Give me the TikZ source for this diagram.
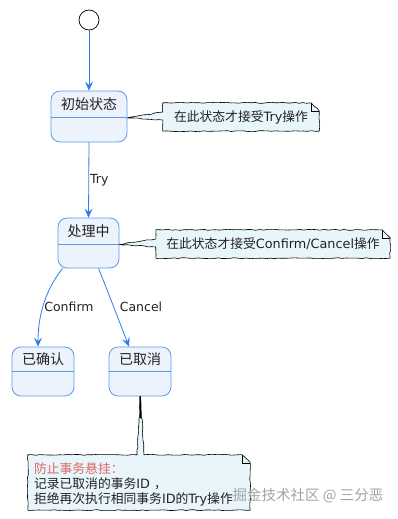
\documentclass[tikz,border=0pt]{standalone}
\usepackage{fontspec}
\setmainfont{DejaVu Sans}
\newfontfamily\cjk{Noto Sans CJK SC}
\usetikzlibrary{calc,arrows.meta,decorations.pathmorphing}
\definecolor{stborder}{HTML}{5B9BE6}
\definecolor{stfill}{HTML}{EDF3FC}
\definecolor{arr}{HTML}{2B7FE8}
\definecolor{notefill}{HTML}{E8F5FB}
\definecolor{warn}{HTML}{E06666}
\definecolor{ink}{HTML}{222222}
\definecolor{wm}{HTML}{A3A3A3}
\newcommand{\zh}[1]{{\cjk #1}}
\begin{document}
\begin{tikzpicture}[x=1pt,y=-1pt,
  statebox/.style={draw=stborder, fill=stfill, rounded corners=9pt, line width=0.8pt, inner sep=0},
  statetext/.style={font=\cjk\fontsize{14}{16}\selectfont, text=ink, inner sep=0},
  divider/.style={draw=stborder, line width=0.8pt},
  trans/.style={draw=arr, line width=0.8pt, -{Stealth[length=9pt,width=8pt,inset=3.5pt]}},
  lbl/.style={font=\fontsize{12.5}{14}\selectfont, text=ink, inner sep=1pt},
  noteframe/.style={draw=none, inner sep=0},
  noteline/.style={draw=black, fill=notefill, line width=0.6pt, line join=round,
    decorate, decoration={random steps, segment length=4pt, amplitude=0.5pt}},
  notetext/.style={font=\fontsize{12.8}{15}\selectfont, text=ink, inner sep=0}]
\pgfmathsetseed{7}
\useasboundingbox (0,0) rectangle (397,519);

% start
\node[circle, draw=black, fill=white, minimum size=20pt, inner sep=0, line width=0.7pt] (st) at (89,20) {};

% states
\node[statebox, minimum width=76pt, minimum height=51pt] (s0) at (89,116.5) {};
\draw[divider] ($(s0.north west)+(0,27)$) -- ($(s0.north east)+(0,27)$);
\node[statetext] (t0) at (89,104) {初始状态};

\node[statebox, minimum width=61pt, minimum height=50pt] (s1) at (88.5,243) {};
\draw[divider] ($(s1.north west)+(0,27)$) -- ($(s1.north east)+(0,27)$);
\node[statetext] (t1) at (88.5,231) {处理中};

\node[statebox, minimum width=62pt, minimum height=49pt] (s2) at (43,371.5) {};
\draw[divider] ($(s2.north west)+(0,25)$) -- ($(s2.north east)+(0,25)$);
\node[statetext] (t2) at (43,359) {已确认};

\node[statebox, minimum width=62pt, minimum height=49pt] (s3) at (140,371.5) {};
\draw[divider] ($(s3.north west)+(0,25)$) -- ($(s3.north east)+(0,25)$);
\node[statetext] (t3) at (140,359) {已取消};

% transitions
\draw[trans] (st) -- (s0.north);
\draw[trans] (s0.south) -- node[lbl, right, pos=0.5] (ltry) {Try} (s1.north);
\draw[trans] ($(s1.south)+(-26,0)$) .. controls (44,292) and (38,318) .. ($(s2.north)+(-5,0)$);
\node[lbl] (lconf) at (69,307) {Confirm};
\draw[trans] ($(s1.south)+(10,0)$) .. controls (108,292) and (118,318) .. ($(s3.north)+(-11,0)$);
\node[lbl] (lcanc) at (141,307) {Cancel};

% note 1
\node[noteframe, minimum width=156pt, minimum height=28pt] (n1) at (241,117) {};
\draw[noteline] (n1.north west) -- ($(n1.north east)+(-8,0)$) -- ($(n1.north east)+(0,8)$)
  -- (n1.south east) -- (n1.south west) -- ($(n1.west)+(0,3)$) -- ($(s0.east)+(0,1.5)$)
  -- ($(n1.west)+(0,-5)$) -- cycle;
\draw[black, line width=0.6pt] ($(n1.north east)+(-8,0)$) -- ($(n1.north east)+(-8,8)$) -- ($(n1.north east)+(0,8)$);
\node[notetext] (tn1) at (n1.center) {\zh{在此状态才接受}Try\zh{操作}};

% note 2
\node[noteframe, minimum width=234pt, minimum height=28pt] (n2) at (273,244) {};
\draw[noteline] (n2.north west) -- ($(n2.north east)+(-8,0)$) -- ($(n2.north east)+(0,8)$)
  -- (n2.south east) -- (n2.south west) -- ($(n2.west)+(0,3)$) -- ($(s1.east)+(0,1.5)$)
  -- ($(n2.west)+(0,-5)$) -- cycle;
\draw[black, line width=0.6pt] ($(n2.north east)+(-8,0)$) -- ($(n2.north east)+(-8,8)$) -- ($(n2.north east)+(0,8)$);
\node[notetext] (tn2) at (n2.center) {\zh{在此状态才接受}Confirm/Cancel\zh{操作}};

% note 3
\node[noteframe, minimum width=222pt, minimum height=55pt] (n3) at (139,482.5) {};
\draw[noteline] (n3.north west) -- ($(n3.north)+(-2,0)$) -- ($(s3.south)+(0.5,0)$) -- ($(n3.north)+(5,0)$)
  -- ($(n3.north east)+(-8,0)$) -- ($(n3.north east)+(0,8)$)
  -- (n3.south east) -- (n3.south west) -- cycle;
\draw[black, line width=0.6pt] ($(n3.north east)+(-8,0)$) -- ($(n3.north east)+(-8,8)$) -- ($(n3.north east)+(0,8)$);
\draw[black, line width=1.2pt] (s3.south) -- ($(s3.south)+(0.5,22)$);
\node[notetext, align=left, anchor=west] (tn3) at ($(n3.west)+(6,1.5)$)
  {\textcolor{warn}{\zh{防止事务悬挂：}}\\
   \zh{记录已取消的事务}ID \zh{，}\\
   \zh{拒绝再次执行相同事务}ID\zh{的}Try\zh{操作}};

% watermark
\node[font=\cjk\fontsize{14.5}{16}\selectfont, text=wm, inner sep=0] (wmk) at (308,496) {掘金技术社区 @ 三分恶};
\end{tikzpicture}
\end{document}
